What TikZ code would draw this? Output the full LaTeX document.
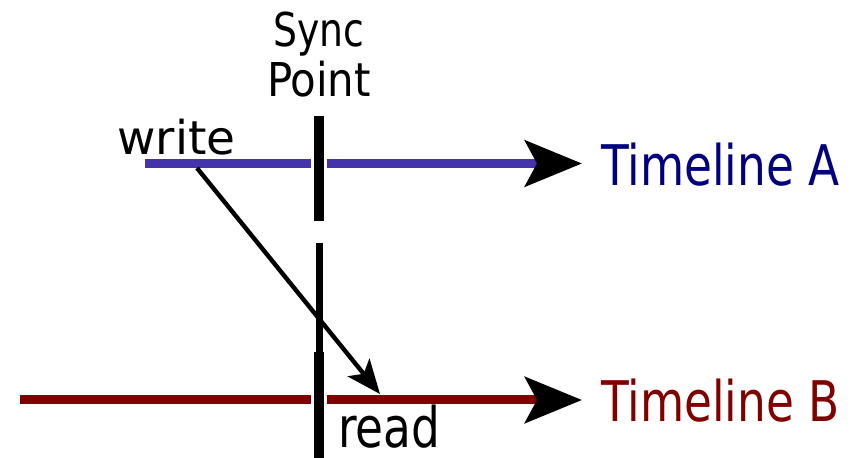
\documentclass[tikz,border=0pt]{standalone}
\usepackage{fontspec}
\newfontfamily\diagfont{DejaVu Sans Condensed}
\newfontfamily\narrowfont[FakeStretch=0.9]{DejaVu Sans Condensed}
\newfontfamily\widefont[FakeStretch=1.12]{DejaVu Sans Condensed}
\usepackage{tikz}
\usetikzlibrary{arrows.meta,positioning}

\definecolor{lineblue}{RGB}{68,51,170}
\definecolor{textblue}{RGB}{0,0,128}
\definecolor{darkred}{RGB}{128,0,0}

\begin{document}
\begin{tikzpicture}[
  x=0.5pt, y=-0.5pt,
  timeline/.style={line width=4.5pt, -{Stealth[length=28.5pt,width=23pt,inset=6pt,color=black]}},
  syncbar/.style={line width=5pt, black},
  gapbar/.style={line width=8pt, white},
  smalltext/.style={font=\diagfont\fontsize{23.3}{25}\selectfont, inner sep=0pt},
  bigtext/.style={font=\narrowfont\fontsize{28}{30}\selectfont, inner sep=0pt, anchor=base west}
]
\useasboundingbox (0,0) rectangle (855,458);

% labels
\node[smalltext, font=\narrowfont\fontsize{23.3}{25}\selectfont, anchor=base] (sync) at (319,47) {Sync};
\node[smalltext, anchor=base] (point) at (319,97) {Point};
\node[smalltext, font=\widefont\fontsize{23.3}{25}\selectfont, anchor=base west] (write) at (117,155) {write};
\node[bigtext] (read) at (338,447) {read};
\node[bigtext, text=textblue] (tla) at (601,186) {Timeline A};
\node[bigtext, text=darkred] (tlb) at (601,422) {Timeline B};

% timelines
\coordinate (astart) at (145,163.5);
\coordinate (aend) at (582,163.5);
\coordinate (bstart) at (20,400);
\coordinate (bend) at (582,400);
\draw[timeline, lineblue] (astart) -- (aend);
\draw[timeline, darkred] (bstart) -- (bend);

% sync point
\coordinate (s1) at (319,116);
\coordinate (s2) at (319,221);
\coordinate (s3) at (319,243);
\coordinate (s4) at (319,352);
\coordinate (s5) at (319,458);
\draw[gapbar] (s1) -- (s2);
\draw[gapbar] (s4) -- (s5);
\draw[syncbar] (s1) -- (s2);
\draw[syncbar, line width=3.5pt] (s3) -- (s4);
\draw[syncbar] (s4) -- (s5);

% write -> read
\coordinate (wpt) at (197,168);
\coordinate (rpt) at (380,394);
\draw[line width=2.2pt, -{Stealth[length=17pt,width=14pt,inset=4pt]}] (wpt) -- (rpt);

\end{tikzpicture}
\end{document}
